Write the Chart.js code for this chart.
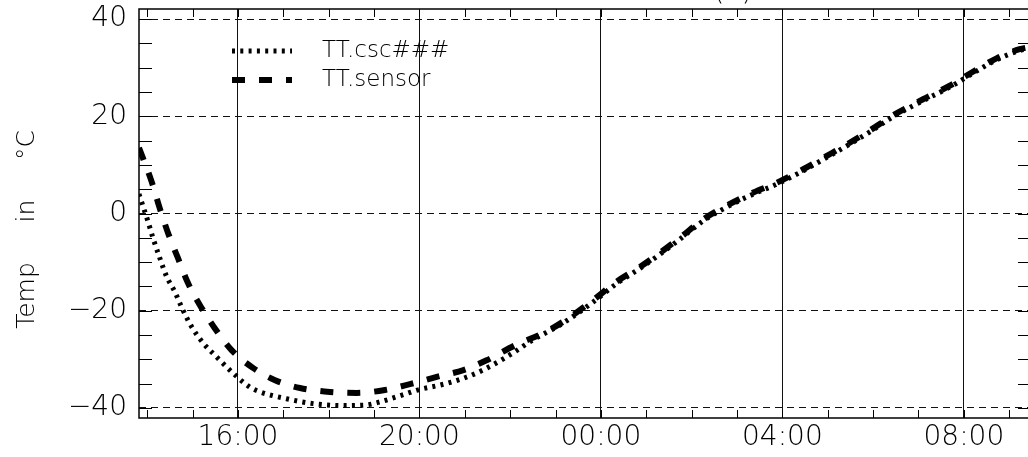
<!DOCTYPE html>
<html>
<head>
<meta charset="utf-8">
<script src="https://cdn.jsdelivr.net/npm/chart.js@4/dist/chart.umd.min.js"></script>
<style>
  html, body { margin: 0; padding: 0; background: #fff; overflow: hidden; }
  #wrap { width: 1040px; height: 457px; }
</style>
</head>
<body>
<div id="wrap"><canvas id="plot" width="1040" height="457"></canvas></div>
<script>
// hours counted from midnight of the first day (24 = 00:00 next day)
const cscHours = [13.82, 14.02, 14.13, 14.28, 14.43, 14.61, 14.79, 14.98, 15.24, 15.53, 15.90,
    16.26, 16.49, 17.07, 17.66, 18.32, 18.80, 19.15, 19.60, 20.00, 20.45, 20.97, 21.40, 21.99,
    22.50, 23.03, 23.32, 23.83, 24.35, 24.86, 25.30, 25.74, 26.26, 26.77, 27.36, 27.87, 28.46,
    28.97, 29.42, 29.93, 30.44, 31.10, 31.69, 32.21, 32.72, 33.23, 33.48];
const cscTemps = [4.0, -1.7, -5.1, -9.2, -13.0, -16.1, -19.9, -23.3, -26.7, -29.5, -32.9,
    -35.7, -36.7, -38.1, -39.1, -39.5, -39.4, -38.7, -37.4, -36.2, -35.3, -33.9, -32.2, -29.1,
    -26.0, -23.3, -21.6, -18.2, -14.4, -11.3, -8.4, -5.3, -1.5, 1.3, 4.0, 6.0, 8.8,
    11.5, 13.9, 16.8, 19.9, 23.2, 26.0, 28.9, 31.6, 33.5, 34.0];

const sensorHours = [13.82, 14.10, 14.28, 14.46, 14.68, 14.90, 15.16, 15.49, 15.86, 16.34,
    16.82, 17.37, 18.03, 18.62, 19.24, 19.79, 20.38, 20.97, 21.48, 22.11, 22.80, 23.32, 23.83,
    24.35, 24.86, 25.30, 25.74, 26.26, 26.77, 27.36, 27.87, 28.46, 28.97, 29.42, 29.93, 30.44,
    31.10, 31.69, 32.21, 32.72, 33.23, 33.48];
const sensorTemps = [13.5, 6.5, 1.0, -4.0, -9.2, -14.3, -18.8, -23.6, -28.1, -31.8,
    -34.3, -35.9, -36.7, -36.9, -36.3, -35.1, -33.6, -32.2, -30.2, -27.1, -24.3, -21.3, -17.8,
    -14.0, -11.0, -8.1, -5.0, -1.2, 1.6, 4.3, 6.3, 9.1, 11.8, 14.2, 17.1, 20.2,
    23.5, 26.3, 29.2, 31.9, 33.8, 34.3];

const seriesNames = ['TT.csc###', 'TT.sensor'];

const timeTicks = [16, 20, 24, 28, 32];
const timeLabels = ['16:00', '20:00', '00:00', '04:00', '08:00'];
const tempTicks = [-40, -20, 0, 20, 40];

const FONT = 'DejaVu Sans';
const WEIGHT = 200;

const toPoints = (xs, ys) => xs.map((x, i) => ({ x: x, y: ys[i] }));

// frame, inward minor ticks, legend and panel tag
const framePlugin = {
    id: 'frame',
    afterDraw(chart) {
        const ctx = chart.ctx;
        const a = chart.chartArea;
        const xs = chart.scales.x;
        const ys = chart.scales.y;
        ctx.save();
        ctx.strokeStyle = '#000';
        ctx.lineWidth = 1.5;
        ctx.strokeRect(a.left, a.top, a.right - a.left, a.bottom - a.top);

        ctx.lineWidth = 1;
        ctx.beginPath();
        for (let h = Math.ceil(xs.min); h <= xs.max; h++) {
            const px = Math.round(xs.getPixelForValue(h)) + 0.5;
            ctx.moveTo(px, a.bottom); ctx.lineTo(px, a.bottom - 8);
            ctx.moveTo(px, a.top); ctx.lineTo(px, a.top + 8);
        }
        for (let t = -40; t <= 40; t += 5) {
            const py = Math.round(ys.getPixelForValue(t)) + 0.5;
            ctx.moveTo(a.left, py); ctx.lineTo(a.left + 13, py);
            ctx.moveTo(a.right, py); ctx.lineTo(a.right - 13, py);
        }
        ctx.stroke();

        // legend inside the plot, upper left
        ctx.font = WEIGHT + ' 23px "' + FONT + '"';
        ctx.textBaseline = 'middle';
        ctx.fillStyle = '#000';
        chart.data.datasets.forEach((ds, i) => {
            const y = a.top + 42 + i * 29;
            ctx.beginPath();
            ctx.lineWidth = ds.borderWidth;
            ctx.setLineDash(ds.borderDash);
            ctx.moveTo(a.left + 93, y);
            ctx.lineTo(a.left + 153, y);
            ctx.stroke();
            ctx.setLineDash([]);
            ctx.fillText(ds.label, a.left + 183, y);
        });

        ctx.font = WEIGHT + ' 28px "' + FONT + '"';
        ctx.textAlign = 'center';
        ctx.textBaseline = 'alphabetic';
        ctx.fillText('(a)', 733, 0);
        ctx.restore();
    }
};

const ctx = document.getElementById('plot').getContext('2d');

new Chart(ctx, {
    type: 'line',
    data: {
        datasets: [{
            label: seriesNames[0],
            data: toPoints(cscHours, cscTemps),
            borderColor: '#000',
            borderWidth: 5,
            borderDash: [3, 5.3],
            pointRadius: 0,
            cubicInterpolationMode: 'monotone',
            fill: false
        }, {
            label: seriesNames[1],
            data: toPoints(sensorHours, sensorTemps),
            borderColor: '#000',
            borderWidth: 6,
            borderDash: [13, 14],
            pointRadius: 0,
            cubicInterpolationMode: 'monotone',
            fill: false
        }]
    },
    options: {
        responsive: false,
        animation: false,
        devicePixelRatio: 1,
        layout: { padding: { top: 9, right: 9, left: 0, bottom: 0 } },
        plugins: {
            legend: { display: false },
            tooltip: { enabled: false }
        },
        scales: {
            x: {
                type: 'linear',
                min: 13.82,
                max: 33.48,
                afterBuildTicks: (scale) => { scale.ticks = timeTicks.map(v => ({ value: v })); },
                afterFit: (scale) => {
                    scale.height = 39;
                    scale.paddingLeft = 0;
                    scale.paddingRight = 0;
                },
                ticks: {
                    color: '#000',
                    font: { family: FONT, size: 28, weight: WEIGHT },
                    padding: 3,
                    maxRotation: 0,
                    autoSkip: false,
                    callback: (v) => timeLabels[timeTicks.indexOf(v)]
                },
                grid: { color: '#111', lineWidth: 1, drawTicks: false },
                border: { display: false }
            },
            y: {
                min: -42.06,
                max: 42.06,
                afterBuildTicks: (scale) => { scale.ticks = tempTicks.map(v => ({ value: v })); },
                afterFit: (scale) => {
                    scale.width = 139;
                    scale.paddingTop = 0;
                    scale.paddingBottom = 0;
                },
                ticks: {
                    color: '#000',
                    font: { family: FONT, size: 28, weight: WEIGHT },
                    padding: 12,
                    callback: (v) => v < 0 ? '\u2212' + (-v) : String(v)
                },
                grid: { color: '#111', lineWidth: 1, drawTicks: false },
                border: { display: false, dash: [7, 5] },
                title: {
                    display: true,
                    text: 'Temp     in     \u00b0C    ',
                    color: '#000',
                    font: { family: FONT, size: 25, weight: WEIGHT },
                    padding: { top: 12, bottom: 0 }
                }
            }
        }
    },
    plugins: [framePlugin]
});
</script>
</body>
</html>
